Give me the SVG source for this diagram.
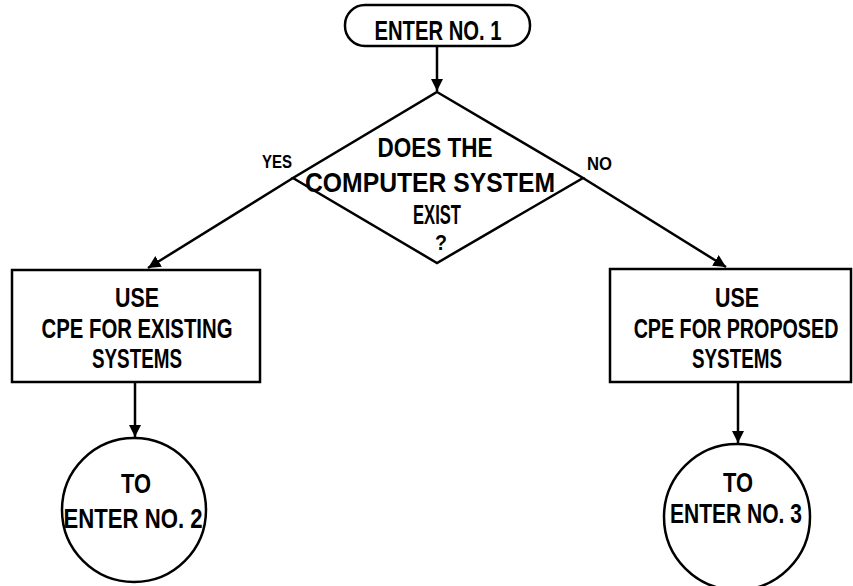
<svg xmlns="http://www.w3.org/2000/svg" width="853" height="586" viewBox="0 0 853 586">
<defs>
<style>
.s{fill:none;stroke:#000;stroke-width:2.5}
.t{font-family:"Liberation Sans",Arial,sans-serif;font-weight:bold;font-size:28px;fill:#000;text-anchor:middle}
.l{font-family:"Liberation Sans",Arial,sans-serif;font-weight:bold;font-size:19px;fill:#000}
.c{fill:none;stroke:#000;stroke-width:2.5}
</style>
<marker id="ah" viewBox="0 0 10 10" refX="10" refY="5" markerWidth="5" markerHeight="5" orient="auto" markerUnits="strokeWidth">
<path d="M0,0 L10,5 L0,10 z" fill="#000"/>
</marker>
</defs>
<rect width="853" height="586" fill="#fff"/>
<g id="start">
<rect class="s" x="345" y="5" width="185" height="41" rx="20"/>
<text class="t" x="438" y="40" textLength="127" lengthAdjust="spacingAndGlyphs">ENTER NO. 1</text>
</g>
<g id="decision">
<polygon class="s" points="437,92 583,178 437,263 293,178"/>
<text class="t" x="435" y="157" textLength="115" lengthAdjust="spacingAndGlyphs">DOES THE</text>
<text class="t" x="430" y="192" textLength="250" lengthAdjust="spacingAndGlyphs">COMPUTER SYSTEM</text>
<text class="t" x="437" y="224" textLength="48" lengthAdjust="spacingAndGlyphs">EXIST</text>
<text class="t" x="441" y="250" style="font-size:22px" textLength="12" lengthAdjust="spacingAndGlyphs">?</text>
</g>
<g id="existing">
<rect class="s" x="12" y="270" width="248" height="112"/>
<text class="t" x="137" y="307" textLength="44" lengthAdjust="spacingAndGlyphs">USE</text>
<text class="t" x="137" y="338" textLength="191" lengthAdjust="spacingAndGlyphs">CPE FOR EXISTING</text>
<text class="t" x="137" y="368" textLength="90" lengthAdjust="spacingAndGlyphs">SYSTEMS</text>
</g>
<g id="proposed">
<rect class="s" x="610" y="269" width="241" height="113"/>
<text class="t" x="737" y="307" textLength="44" lengthAdjust="spacingAndGlyphs">USE</text>
<text class="t" transform="translate(736,338) scale(0.704,1)" x="0" y="0">CPE FOR PROPOSED</text>
<text class="t" x="737" y="368" textLength="90" lengthAdjust="spacingAndGlyphs">SYSTEMS</text>
</g>
<g id="enter2">
<circle class="c" cx="134" cy="510" r="72"/>
<text class="t" x="136" y="493" textLength="30" lengthAdjust="spacingAndGlyphs">TO</text>
<text class="t" x="133" y="528" textLength="139" lengthAdjust="spacingAndGlyphs">ENTER NO. 2</text>
</g>
<g id="enter3">
<circle class="c" cx="737" cy="517" r="73"/>
<text class="t" x="738" y="492" textLength="30" lengthAdjust="spacingAndGlyphs">TO</text>
<text class="t" x="736" y="523" textLength="132" lengthAdjust="spacingAndGlyphs">ENTER NO. 3</text>
</g>
<g id="connectors">
<line class="s" x1="437" y1="46" x2="437" y2="91" marker-end="url(#ah)"/>
<line class="s" x1="293" y1="178" x2="148" y2="268" marker-end="url(#ah)"/>
<line class="s" x1="583" y1="178" x2="726" y2="267" marker-end="url(#ah)"/>
<line class="s" x1="135" y1="382" x2="135" y2="437" marker-end="url(#ah)"/>
<line class="s" x1="738" y1="382" x2="738" y2="443" marker-end="url(#ah)"/>
<text class="l" x="262" y="168" textLength="30" lengthAdjust="spacingAndGlyphs">YES</text>
<text class="l" x="587" y="170" textLength="25" lengthAdjust="spacingAndGlyphs">NO</text>
</g>
</svg>
